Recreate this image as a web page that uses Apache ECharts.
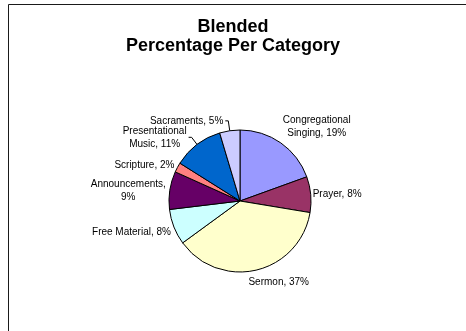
<!DOCTYPE html>
<html>
<head>
<meta charset="utf-8">
<script src="https://cdn.jsdelivr.net/npm/echarts@6/dist/echarts.min.js"></script>
<style>
html,body{margin:0;padding:0;background:#fff;}
#chart{width:466px;height:331px;}
</style>
</head>
<body>
<div id="chart"></div>
<script>
// ---- data ----
const categories = ['Congregational Singing', 'Prayer', 'Sermon', 'Free Material',
  'Announcements', 'Scripture', 'Presentational Music', 'Sacraments'];
const values = [19.4, 8.1, 37.2, 8.1, 8.6, 2.2, 11.4, 4.6];
const colors = ['#9999FF', '#993366', '#FFFFCC', '#CCFFFF', '#660066', '#FF8080', '#0066CC', '#CCCCFF'];
// labels that wrap onto two lines (break at the first space)
const wrapLabel = [true, false, false, false, true, false, true, false];
// leader lines shown for these slices
const showLeader = [false, false, false, false, false, false, true, true];
// small nudges of label text (styling)
const nudgeX = [0, 0, -10, -1, -2, -1, 0, 0];
const nudgeY = [-16, 0, 12, 5, 0, -2, 0, 0];

const FONT = '"Liberation Sans", Arial, sans-serif';

const data = categories.map((name, i) => ({
  name: name,
  value: values[i],
  itemStyle: { color: colors[i] },
  labelLine: showLeader[i]
    ? { show: true, length: i === 6 ? 9 : 10, length2: 3 }
    : { show: false, length: 0, length2: 0 }
}));

const chart = echarts.init(document.getElementById('chart'), null, { renderer: 'canvas' });
chart.setOption({
  animation: false,
  backgroundColor: '#ffffff',
  title: {
    text: 'Blended\nPercentage Per Category',
    left: 'center',
    top: 18,
    padding: [0, 0, 0, 16],
    textStyle: { fontFamily: FONT, fontSize: 18, fontWeight: 'bold', color: '#000', lineHeight: 19 }
  },
  graphic: [{
    type: 'rect',
    shape: { x: 8.5, y: 4.5, width: 480, height: 360 },
    style: { fill: 'none', stroke: '#1a1a1a', lineWidth: 1 },
    silent: true
  }],
  series: [{
    type: 'pie',
    center: [240, 201],
    radius: 71,
    startAngle: 90,
    clockwise: true,
    avoidLabelOverlap: false,
    data: data,
    itemStyle: { borderColor: '#000', borderWidth: 1 },
    emphasis: { disabled: true },
    label: {
      show: true,
      position: 'outside',
      distanceToLabelLine: 2,
      fontFamily: FONT,
      fontSize: 10,
      color: '#000',
      formatter: function (p) {
        let t = p.name + ', ' + Math.round(p.percent) + '%';
        if (wrapLabel[p.dataIndex]) {
          const k = t.indexOf(' ');
          return '{c|' + t.slice(0, k) + '}\n{c|' + t.slice(k + 1) + '}';
        }
        return t;
      },
      rich: {
        c: { align: 'center', fontFamily: FONT, fontSize: 10, color: '#000', lineHeight: 13 }
      }
    },
    labelLine: { lineStyle: { color: '#000', width: 1 }, smooth: false },
    labelLayout: function (p) {
      return { dx: nudgeX[p.dataIndex], dy: nudgeY[p.dataIndex] };
    }
  }]
});
</script>
</body>
</html>
